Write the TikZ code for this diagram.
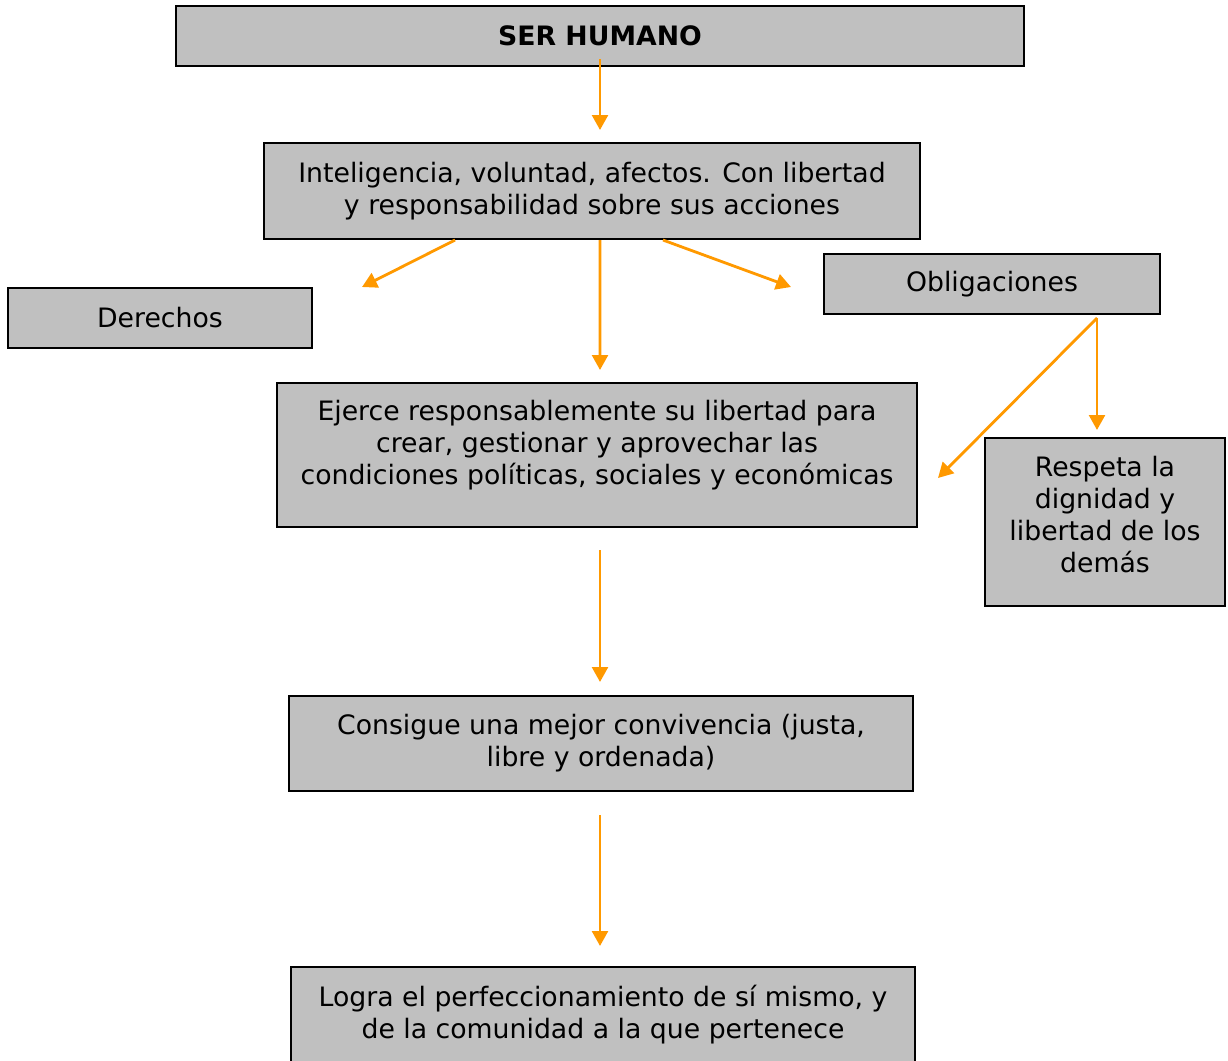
\documentclass[tikz,border=0pt]{standalone}
\usepackage{fontspec}
\setmainfont{DejaVu Sans}
\usetikzlibrary{arrows.meta}
\definecolor{grisCaja}{HTML}{C0C0C0}
\definecolor{naranja}{HTML}{FF9900}
\tikzset{
	caja/.style={draw=black, line width=1.2pt, fill=grisCaja, align=center, inner sep=0pt,
		font=\fontsize{15.2}{18.2}\selectfont},
	flechita/.style={draw=naranja, line width=1.6pt, -{Triangle[length=8.5pt,width=9pt]}}
}

\begin{document}
\begin{tikzpicture}[x=0.02cm, y=-0.02cm]
		%%%%% START %%%%%
		\useasboundingbox (0,0) rectangle (1228,1061);
		
		\node[caja, minimum width=16.96cm, minimum height=1.2cm] (ser) at (600, 36) {\textbf{SER HUMANO}};
		\node[caja, minimum width=13.12cm, minimum height=1.92cm] (intel) at (592, 191)
			{Inteligencia, voluntad, afectos. Con libertad\\y responsabilidad sobre sus acciones};
		\node[caja, minimum width=6.08cm, minimum height=1.2cm] (der) at (160, 318) {Derechos};
		\node[caja, minimum width=6.72cm, minimum height=1.2cm] (oblig) at (992, 284) {Obligaciones};
		\node[caja, minimum width=12.8cm, minimum height=2.88cm, text depth=14pt] (ejerce) at (597, 455)
			{Ejerce responsablemente su libertad para\\crear, gestionar y aprovechar las\\condiciones políticas, sociales y económicas};
		\node[caja, minimum width=4.8cm, minimum height=3.36cm, text depth=9pt] (respeta) at (1105, 522)
			{Respeta la\\dignidad y\\libertad de los\\demás};
		\node[caja, minimum width=12.48cm, minimum height=1.9cm, text depth=4pt] (consigue) at (601, 743.5)
			{Consigue una mejor convivencia (justa,\\libre y ordenada)};
		\node[caja, minimum width=12.48cm, minimum height=1.92cm, text depth=4pt] (logra) at (603, 1015)
			{Logra el perfeccionamiento de sí mismo, y\\de la comunidad a la que pertenece};
		
		% puntas sueltas
		\coordinate (p1) at (600, 130);
		\coordinate (p2) at (362, 287);
		\coordinate (p3) at (600, 370);
		\coordinate (p4) at (791, 287);
		\coordinate (ramal) at (1097, 318);
		\coordinate (p5) at (1097, 430);
		\coordinate (p6) at (938, 478);
		\coordinate (q7) at (600, 550);
		\coordinate (p7) at (600, 682);
		\coordinate (q8) at (600, 815);
		\coordinate (p8) at (600, 946);
		
		\draw[flechita] ([yshift=0.16cm]ser.south) -- (p1);
		\draw[flechita] ([xshift=-2.74cm]intel.south) -- (p2);
		\draw[flechita] ([xshift=0.16cm]intel.south) -- (p3);
		\draw[flechita] ([xshift=1.42cm]intel.south) -- (p4);
		\draw[flechita] (ramal) -- (p5);
		\draw[flechita] (ramal) -- (p6);
		\draw[flechita] (q7) -- (p7);
		\draw[flechita] (q8) -- (p8);
		%%%%% END %%%%%
\end{tikzpicture}
\end{document}
